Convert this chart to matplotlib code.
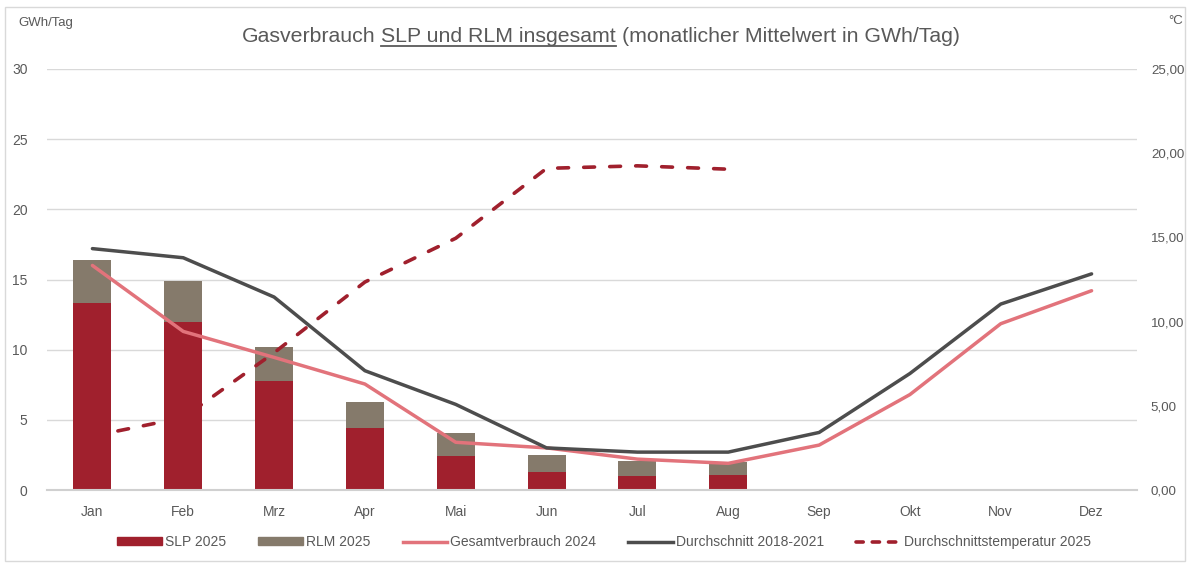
import numpy as np
import matplotlib
matplotlib.use("Agg")
import matplotlib.pyplot as plt
from matplotlib.patches import Rectangle, Patch
from matplotlib.lines import Line2D

plt.rcParams['font.family'] = ['Liberation Sans', 'DejaVu Sans']

# Daten
monate = ["Jan", "Feb", "Mrz", "Apr", "Mai", "Jun", "Jul", "Aug", "Sep", "Okt", "Nov", "Dez"]
slp_2025 = [13.3, 12.0, 7.8, 4.4, 2.4, 1.3, 1.0, 1.05]
rlm_2025 = [3.1, 2.9, 2.4, 1.9, 1.65, 1.2, 1.05, 0.95]
gesamt_2024 = [16.0, 11.3, 9.45, 7.55, 3.4, 3.0, 2.2, 1.9, 3.2, 6.8, 11.85, 14.2]
durchschnitt_1821 = [17.2, 16.55, 13.75, 8.5, 6.1, 3.0, 2.7, 2.7, 4.1, 8.3, 13.25, 15.4]
temp_2025 = [3.2, 4.3, 8.15, 12.35, 14.95, 19.1, 19.25, 19.05]

c_slp = "#A0202D"
c_rlm = "#857A6B"
c_ges = "#E2737B"
c_dur = "#4D4D4D"
c_txt = "#595959"

fig = plt.figure(figsize=(11.9, 5.63), dpi=100)
fig.patches.append(Rectangle((0.004, 0.004), 0.992, 0.983, transform=fig.transFigure,
                             fill=False, edgecolor="#d9d9d9", lw=1))

ax = fig.add_axes([47 / 1190, 1 - 490 / 563, (1137 - 47) / 1190, (490 - 69) / 563])
ax2 = ax.twinx()

x = np.arange(len(monate))
xb = x[:len(slp_2025)]

ax.bar(xb, slp_2025, width=0.42, color=c_slp, zorder=2)
ax.bar(xb, rlm_2025, width=0.42, bottom=slp_2025, color=c_rlm, zorder=2)
ax.plot(x, gesamt_2024, color=c_ges, lw=2.5, zorder=3, solid_capstyle='round')
ax.plot(x, durchschnitt_1821, color=c_dur, lw=2.5, zorder=3, solid_capstyle='round')
ax2.plot(xb, temp_2025, color=c_slp, lw=2.6, dashes=(3, 4.2), dash_capstyle='round')

ax.set_xlim(-0.5, 11.5)
ax.set_ylim(0, 30)
ax2.set_ylim(0, 25)
ax.set_yticks(np.arange(0, 31, 5))
ax2.set_yticks(np.arange(0, 26, 5))
ax2.set_yticklabels([f"{v:.2f}".replace(".", ",") for v in np.arange(0, 26, 5)])
ax.set_xticks(x)
ax.set_xticklabels(monate)

ax.grid(axis='y', color="#d9d9d9", lw=1)
ax.set_axisbelow(True)
for a in (ax, ax2):
    for s in a.spines.values():
        s.set_visible(False)
    a.tick_params(length=0, labelsize=10, labelcolor=c_txt)
ax.spines['bottom'].set_visible(True)
ax.spines['bottom'].set_color("#d0d0d0")
ax.spines['bottom'].set_linewidth(1.5)
ax.tick_params(axis='y', pad=14)
ax.tick_params(axis='x', pad=11)
ax2.tick_params(axis='y', pad=10, labelsize=9.6)

fig.text(18 / 1190, 1 - 23 / 563, "GWh/Tag", fontsize=9.5, color=c_txt, va='center')
fig.text(1183 / 1190, 1 - 21 / 563, "°C", fontsize=9.5, color=c_txt, va='center', ha='right')

# Titel mit unterstrichenem Mittelteil
teile = ["Gasverbrauch", "SLP und RLM insgesamt", "(monatlicher Mittelwert in GWh/Tag)"]
ty = 1 - 42 / 563
tfs = 15.3
texte = [fig.text(0, ty, t, fontsize=tfs, color=c_txt, va='baseline') for t in teile]
r = fig.canvas.get_renderer()
breiten = [t.get_window_extent(r).width for t in texte]
probe = fig.text(0, 0, "a a", fontsize=tfs)
probe2 = fig.text(0, 0, "aa", fontsize=tfs)
leer = probe.get_window_extent(r).width - probe2.get_window_extent(r).width
probe.remove()
probe2.remove()
gesamt = sum(breiten) + 2 * leer
start = 601 - gesamt / 2
pos = start
for t, b in zip(texte, breiten):
    t.set_x(pos / 1190)
    if t is texte[1]:
        fig.lines.append(Line2D([pos / 1190, (pos + b) / 1190], [ty - 4 / 563] * 2,
                                transform=fig.transFigure, color=c_txt, lw=1.3))
    pos += b + leer

handles = [Patch(color=c_slp), Patch(color=c_rlm),
           Line2D([], [], color=c_ges, lw=2.5),
           Line2D([], [], color=c_dur, lw=2.5),
           Line2D([], [], color=c_slp, lw=2.6, dashes=(2, 2.5), dash_capstyle='round')]
labels = ["SLP 2025", "RLM 2025", "Gesamtverbrauch 2024", "Durchschnitt 2018-2021",
          "Durchschnittstemperatur 2025"]
fig.legend(handles, labels, loc='center', bbox_to_anchor=(604 / 1190, 1 - 542 / 563), ncol=5,
           frameon=False, fontsize=10, labelcolor=c_txt, handlelength=3.2,
           handleheight=0.5, handletextpad=0.2, columnspacing=2.35)

fig.savefig("out.png", dpi=100)
